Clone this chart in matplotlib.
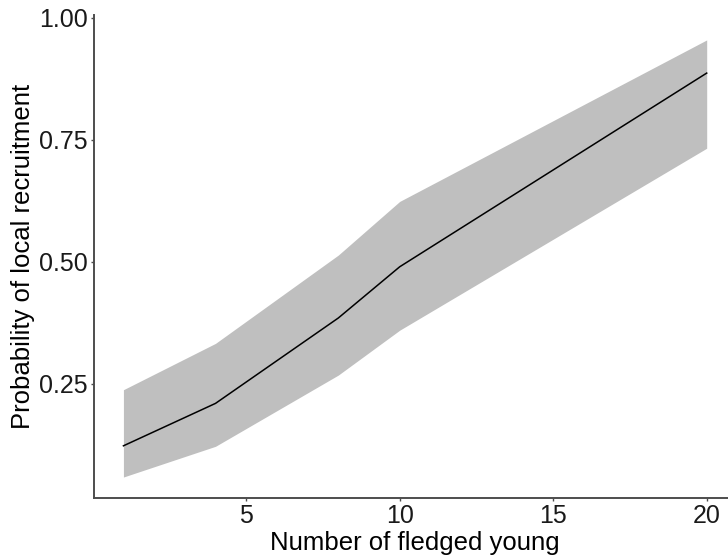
import numpy as np
import matplotlib.pyplot as plt

plt.rcParams['font.family'] = ['Liberation Sans', 'DejaVu Sans']

# predicted recruitment probability with confidence band
fledged = [1, 4, 8, 10, 20]
prob = [0.123, 0.210, 0.385, 0.490, 0.887]
lower = [0.059, 0.122, 0.268, 0.360, 0.733]
upper = [0.238, 0.333, 0.514, 0.624, 0.955]

fig = plt.figure(figsize=(7.28, 5.59), dpi=100)
# x axis runs a little past the right edge of the figure
ax = fig.add_axes([0.1295, 0.1091, 0.8813, 0.864])

ax.fill_between(fledged, lower, upper, color='#bfbfbf', lw=0)
ax.plot(fledged, prob, color='black', lw=1.1)

ax.set_xlim(0.05, 20.95)
ax.set_ylim(0.016, 1.006)
ax.set_xticks([5, 10, 15, 20])
ax.set_yticks([0.25, 0.50, 0.75, 1.00])
ax.set_yticklabels(['0.25', '0.50', '0.75', '1.00'])

for s in ['top', 'right']:
    ax.spines[s].set_visible(False)
for s in ['left', 'bottom']:
    ax.spines[s].set_color('#4d4d4d')
    ax.spines[s].set_linewidth(1.4)
ax.tick_params(colors='#4d4d4d', labelcolor='#1a1a1a', labelsize=18,
               length=2.5, width=1, pad=2)

ax.set_xlabel('Number of fledged young', fontsize=18.5, labelpad=2)
ax.set_ylabel('Probability of local recruitment', fontsize=18.5, labelpad=3)

fig.savefig('out.png', dpi=100)
